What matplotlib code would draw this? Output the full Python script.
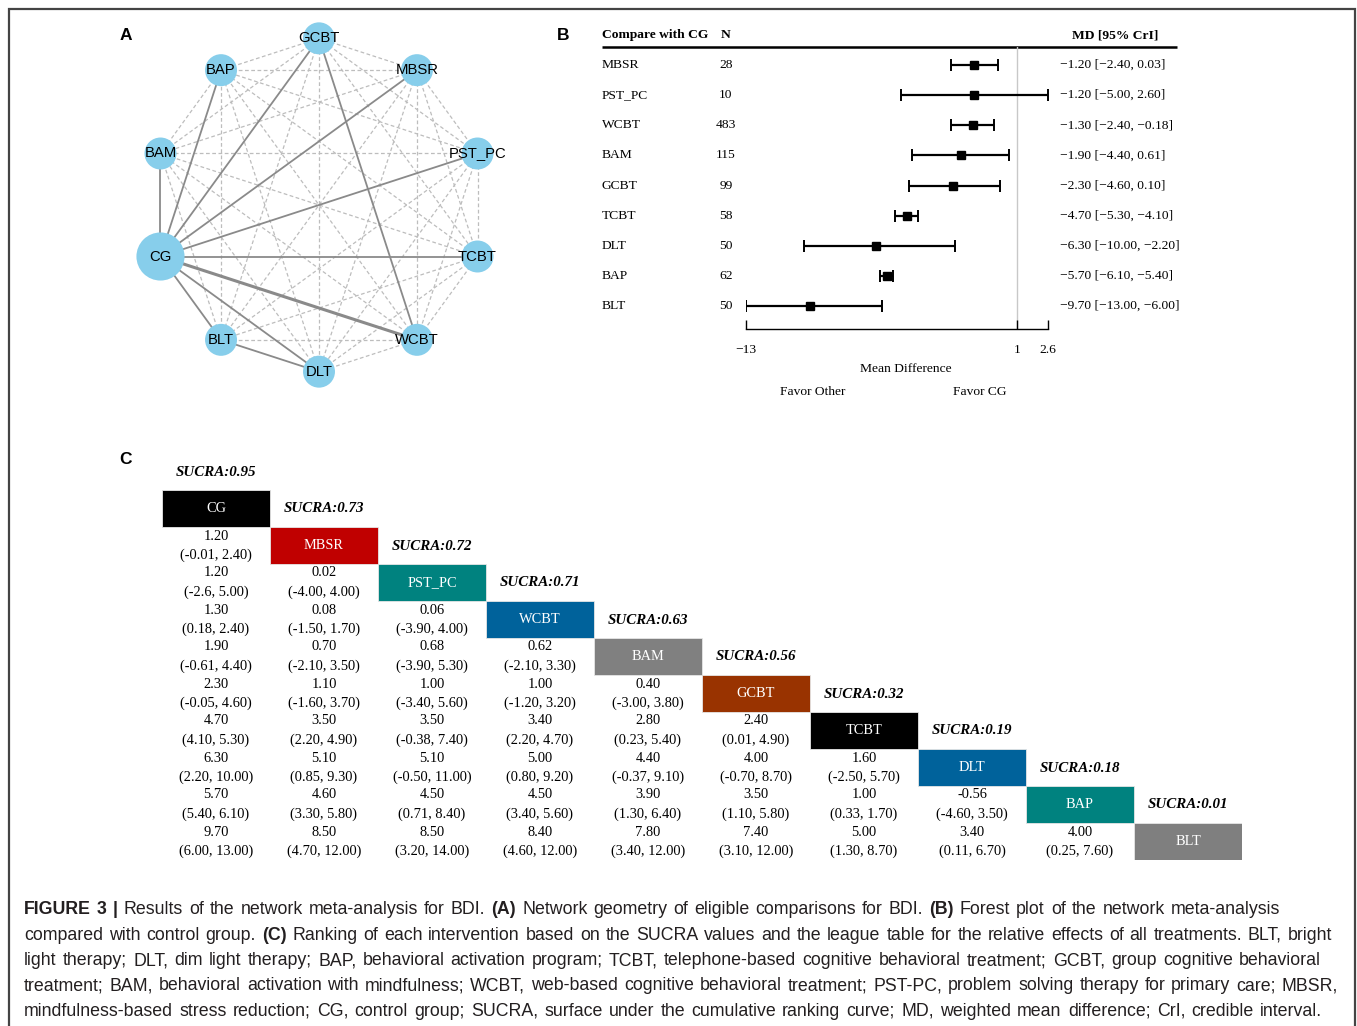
import matplotlib
matplotlib.use("Agg")
import matplotlib.pyplot as plt
from matplotlib.patches import Rectangle
from matplotlib.transforms import blended_transform_factory
import numpy as np

# ---------------- data ----------------
# Panel A: network geometry
net_nodes = ["GCBT", "MBSR", "PST_PC", "TCBT", "WCBT", "DLT", "BLT", "CG", "BAM", "BAP"]
net_node_size = [530, 530, 530, 530, 530, 530, 530, 1200, 530, 530]
direct_pairs = [("CG", "BAM"), ("CG", "BAP"), ("CG", "GCBT"), ("CG", "MBSR"),
                ("CG", "PST_PC"), ("CG", "TCBT"), ("CG", "WCBT"), ("CG", "DLT"),
                ("CG", "BLT"), ("GCBT", "WCBT"), ("BLT", "DLT")]
direct_width = [1.3, 1.3, 1.3, 1.3, 1.3, 1.3, 2.2, 1.3, 1.3, 1.3, 1.3]

# Panel B: forest plot versus control group
fp_names = ["MBSR", "PST_PC", "WCBT", "BAM", "GCBT", "TCBT", "DLT", "BAP", "BLT"]
fp_n = [28, 10, 483, 115, 99, 58, 50, 62, 50]
fp_md = [-1.20, -1.20, -1.30, -1.90, -2.30, -4.70, -6.30, -5.70, -9.70]
fp_lo = [-2.40, -5.00, -2.40, -4.40, -4.60, -5.30, -10.00, -6.10, -13.00]
fp_hi = [0.03, 2.60, -0.18, 0.61, 0.10, -4.10, -2.20, -5.40, -6.00]
fp_ticks = [-13, 1, 2.6]
fp_tick_labels = ["\u221213", "1", "2.6"]

# Panel C: SUCRA ranking and league table
lt_names = ["CG", "MBSR", "PST_PC", "WCBT", "BAM", "GCBT", "TCBT", "DLT", "BAP", "BLT"]
lt_sucra = [0.95, 0.73, 0.72, 0.71, 0.63, 0.56, 0.32, 0.19, 0.18, 0.01]
lt_colors = ["#000000", "#c00000", "#00827f", "#00629b", "#808080",
             "#993300", "#000000", "#00629b", "#00827f", "#7f7f7f"]
lt_est = [
    [],
    ["1.20"],
    ["1.20", "0.02"],
    ["1.30", "0.08", "0.06"],
    ["1.90", "0.70", "0.68", "0.62"],
    ["2.30", "1.10", "1.00", "1.00", "0.40"],
    ["4.70", "3.50", "3.50", "3.40", "2.80", "2.40"],
    ["6.30", "5.10", "5.10", "5.00", "4.40", "4.00", "1.60"],
    ["5.70", "4.60", "4.50", "4.50", "3.90", "3.50", "1.00", "-0.56"],
    ["9.70", "8.50", "8.50", "8.40", "7.80", "7.40", "5.00", "3.40", "4.00"],
]
lt_ci = [
    [],
    ["(-0.01, 2.40)"],
    ["(-2.6, 5.00)", "(-4.00, 4.00)"],
    ["(0.18, 2.40)", "(-1.50, 1.70)", "(-3.90, 4.00)"],
    ["(-0.61, 4.40)", "(-2.10, 3.50)", "(-3.90, 5.30)", "(-2.10, 3.30)"],
    ["(-0.05, 4.60)", "(-1.60, 3.70)", "(-3.40, 5.60)", "(-1.20, 3.20)", "(-3.00, 3.80)"],
    ["(4.10, 5.30)", "(2.20, 4.90)", "(-0.38, 7.40)", "(2.20, 4.70)", "(0.23, 5.40)",
     "(0.01, 4.90)"],
    ["(2.20, 10.00)", "(0.85, 9.30)", "(-0.50, 11.00)", "(0.80, 9.20)", "(-0.37, 9.10)",
     "(-0.70, 8.70)", "(-2.50, 5.70)"],
    ["(5.40, 6.10)", "(3.30, 5.80)", "(0.71, 8.40)", "(3.40, 5.60)", "(1.30, 6.40)",
     "(1.10, 5.80)", "(0.33, 1.70)", "(-4.60, 3.50)"],
    ["(6.00, 13.00)", "(4.70, 12.00)", "(3.20, 14.00)", "(4.60, 12.00)", "(3.40, 12.00)",
     "(3.10, 12.00)", "(1.30, 8.70)", "(0.11, 6.70)", "(0.25, 7.60)"],
]

caption_lines = [
    [("FIGURE 3 |", True), (" Results of the network meta-analysis for BDI. ", False), ("(A)", True),
     (" Network geometry of eligible comparisons for BDI. ", False), ("(B)", True),
     (" Forest plot of the network meta-analysis", False)],
    [("compared with control group. ", False), ("(C)", True),
     (" Ranking of each intervention based on the SUCRA values and the league table for the "
      "relative effects of all treatments. BLT, bright", False)],
    [("light therapy; DLT, dim light therapy; BAP, behavioral activation program; TCBT, "
      "telephone-based cognitive behavioral treatment; GCBT, group cognitive behavioral", False)],
    [("treatment; BAM, behavioral activation with mindfulness; WCBT, web-based cognitive "
      "behavioral treatment; PST-PC, problem solving therapy for primary care; MBSR,", False)],
    [("mindfulness-based stress reduction; CG, control group; SUCRA, surface under the "
      "cumulative ranking curve; MD, weighted mean difference; CrI, credible interval.", False)],
]
caption_right = [1280, 1332, 1321, 1338, 1322]

# ---------------- figure ----------------
W, H = 1357, 1026
SERIF = "Liberation Serif"
SANS = "Liberation Sans"
fig = plt.figure(figsize=(W / 100, H / 100), dpi=100)


def px_axes(x0, y0, x1, y1):
    return fig.add_axes([x0 / W, 1 - y1 / H, (x1 - x0) / W, (y1 - y0) / H])


page = px_axes(0, 0, W, H)
page.set_xlim(0, W)
page.set_ylim(H, 0)
page.axis("off")

# frame around the figure
page.plot([8.5, 8.5, 1354.5, 1354.5], [H + 5, 8.5, 8.5, H + 5], color="#444444", lw=1.6,
          solid_joinstyle="miter", clip_on=False)

for letter, x, y in [("A", 126, 36), ("B", 563, 36), ("C", 126, 459)]:
    page.text(x, y, letter, family=SANS, fontweight="bold", fontsize=12.5,
              ha="center", va="center")

# ---------------- A: network ----------------
axn = px_axes(139, 25, 499, 385)
axn.set_xlim(-1.08, 1.08)
axn.set_ylim(-1.08, 1.08)
axn.axis("off")
ang = np.deg2rad(90 - 36 * np.arange(len(net_nodes)))
pos = {n: (np.cos(a), np.sin(a)) for n, a in zip(net_nodes, ang)}
direct_set = {frozenset(p) for p in direct_pairs}
for i in range(len(net_nodes)):
    for j in range(i + 1, len(net_nodes)):
        a, b = net_nodes[i], net_nodes[j]
        if frozenset((a, b)) in direct_set:
            continue
        axn.plot([pos[a][0], pos[b][0]], [pos[a][1], pos[b][1]], color="#bdbdbd",
                 lw=0.9, ls=(0, (3, 2)), zorder=1)
for (a, b), w in zip(direct_pairs, direct_width):
    axn.plot([pos[a][0], pos[b][0]], [pos[a][1], pos[b][1]], color="#8a8a8a",
             lw=w, zorder=2, solid_capstyle="butt")
axn.scatter([pos[n][0] for n in net_nodes], [pos[n][1] for n in net_nodes],
            s=net_node_size, color="#87ceeb", edgecolors="none", zorder=3, clip_on=False)
for n in net_nodes:
    axn.text(pos[n][0], pos[n][1], n, family=SANS, fontsize=10.7, ha="center",
             va="center", zorder=4)

# ---------------- B: forest plot ----------------
axf = px_axes(746, 47, 1048, 329)
axf.set_xlim(-13, 2.6)
rows = np.arange(len(fp_names))
axf.set_ylim(8.763, -0.598)
md = np.array(fp_md)
axf.axvline(1, color="#c8c8c8", lw=1.0, zorder=0)
axf.errorbar(md, rows, xerr=[md - np.array(fp_lo), np.array(fp_hi) - md], fmt="s",
             color="black", ms=6, capsize=4.5, elinewidth=1.6, capthick=1.4, zorder=3)
for s in ["top", "left", "right"]:
    axf.spines[s].set_visible(False)
axf.spines["bottom"].set_linewidth(1.0)
axf.set_yticks([])
axf.set_xticks(fp_ticks)
axf.set_xticklabels(fp_tick_labels, family=SERIF, fontsize=9.7)
axf.tick_params(axis="x", direction="in", length=6.5, width=1.0, pad=11)
axf.patch.set_alpha(0)

rowtr = blended_transform_factory(page.transData, axf.transData)
page.plot([602, 1177], [47, 47], color="black", lw=1.8, solid_capstyle="butt")
page.text(602, 35, "Compare with CG", family=SERIF, fontweight="bold", fontsize=9.7,
          ha="left", va="center")
page.text(726, 35, "N", family=SERIF, fontweight="bold", fontsize=9.7, ha="center",
          va="center")
page.text(1158, 35, "MD [95% CrI]", family=SERIF, fontweight="bold", fontsize=9.7,
          ha="right", va="center")


def mfmt(v):
    return f"{v:.2f}".replace("-", "\u2212")


for i, name in enumerate(fp_names):
    page.text(602, i, name, transform=rowtr, family=SERIF, fontsize=9.7, ha="left",
              va="center")
    page.text(726, i, str(fp_n[i]), transform=rowtr, family=SERIF, fontsize=9.7,
              ha="center", va="center")
    page.text(1060, i, f"{mfmt(fp_md[i])} [{mfmt(fp_lo[i])}, {mfmt(fp_hi[i])}]",
              transform=rowtr, family=SERIF, fontsize=9.7, ha="left", va="center")

page.text(906, 369, "Mean Difference", family=SERIF, fontsize=9.7, ha="center", va="center")
page.text(813, 392, "Favor Other", family=SERIF, fontsize=9.7, ha="center", va="center")
page.text(980, 392, "Favor CG", family=SERIF, fontsize=9.7, ha="center", va="center")

# ---------------- C: league table ----------------
axt = px_axes(162, 490, 1242, 860)
axt.set_xlim(0, 10)
axt.set_ylim(10, 0)
axt.axis("off")
for i, (name, sc, col) in enumerate(zip(lt_names, lt_sucra, lt_colors)):
    axt.add_patch(Rectangle((i, i), 1, 1, facecolor=col, edgecolor="#e6e6e6", lw=0.6))
    axt.text(i + 0.5, i + 0.5, name, color="white", family=SERIF, fontsize=10.4,
             ha="center", va="center")
    axt.text(i + 0.5, i - 18 / 37, f"SUCRA:{sc:.2f}", family=SERIF, fontweight="bold",
             style="italic", fontsize=10.8, ha="center", va="center", clip_on=False)
for r in range(len(lt_names)):
    for c in range(r):
        axt.text(c + 0.5, r + 0.5 - 9.5 / 37, lt_est[r][c], family=SERIF, fontsize=10.4,
                 ha="center", va="center")
        axt.text(c + 0.5, r + 0.5 + 9.5 / 37, lt_ci[r][c], family=SERIF, fontsize=10.4,
                 ha="center", va="center")

# ---------------- caption ----------------
renderer = fig.canvas.get_renderer()
CAP_FS = 12.8
CAP_COLOR = "#231f20"


def caption_line(y, segs, x0, x1):
    """Place the words of one caption line on a shared baseline, spread to x0..x1."""
    words = []
    for text, bold in segs:
        for w in text.split(" "):
            if w:
                words.append((w, bold))
    arts = [page.text(0, y, w, family=SANS, fontsize=CAP_FS, color=CAP_COLOR,
                      fontweight="bold" if b else "normal", ha="left", va="baseline")
            for w, b in words]
    widths = [a.get_window_extent(renderer).width for a in arts]
    gap = max((x1 - x0 - sum(widths)) / (len(arts) - 1), 2.0)
    x = x0
    for a, w in zip(arts, widths):
        a.set_x(x)
        x += w + gap


for k, segs in enumerate(caption_lines):
    caption_line(914 + 25.5 * k, segs, 24, caption_right[k])

fig.savefig("out.png", dpi=100)
